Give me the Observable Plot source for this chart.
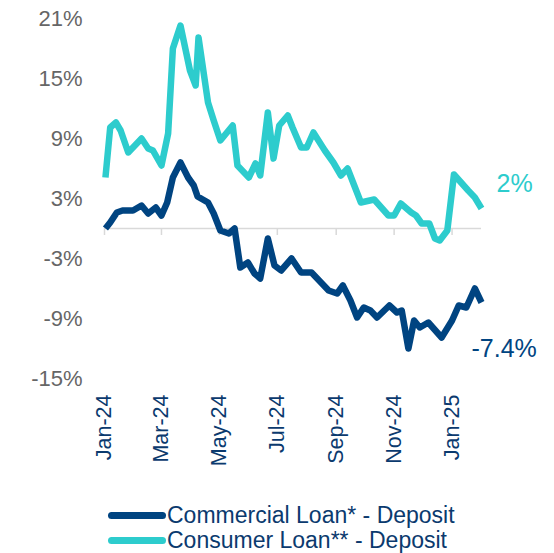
<!DOCTYPE html>
<html><head><meta charset="utf-8">
<script src="https://cdn.jsdelivr.net/npm/d3@7"></script>
<script src="https://cdn.jsdelivr.net/npm/@observablehq/plot@0.6"></script>
<style>
body{margin:0;background:#fff;font-family:"Liberation Sans",Arial,sans-serif;}
#legend{margin-left:108px;margin-top:33px;}
.row{display:flex;align-items:center;height:25px;color:#0b3a6e;font-size:23px;line-height:25px;}
.sw{width:58px;height:7px;border-radius:3.5px;margin-right:1px;}
</style></head><body><div id="chart"></div><div id="legend"></div>
<script>
const seriesNames = ["Commercial Loan* - Deposit", "Consumer Loan** - Deposit"];
const seriesColors = ["#004481", "#2dcccd"];

const commercialDates = ["2024-01-02","2024-01-07","2024-01-14","2024-01-20","2024-01-31","2024-02-09","2024-02-16","2024-02-24","2024-03-01","2024-03-07","2024-03-13","2024-03-21","2024-03-29","2024-04-04","2024-04-08","2024-04-19","2024-04-25","2024-05-02","2024-05-11","2024-05-17","2024-05-23","2024-05-31","2024-06-07","2024-06-13","2024-06-21","2024-06-28","2024-07-05","2024-07-16","2024-07-26","2024-08-06","2024-08-11","2024-08-24","2024-09-02","2024-09-08","2024-09-16","2024-09-23","2024-09-30","2024-10-07","2024-10-14","2024-10-27","2024-11-04","2024-11-09","2024-11-16","2024-11-22","2024-11-28","2024-12-07","2024-12-21","2025-01-01","2025-01-08","2025-01-16","2025-01-25","2025-02-01"];
const commercialValues = [0.0,0.6,1.6,1.8,1.8,2.3,1.5,2.1,1.3,2.6,5.1,6.6,5.1,4.3,3.2,2.6,1.5,-0.2,-0.5,0.0,-3.9,-3.4,-4.5,-5.0,-1.0,-3.7,-4.2,-3.0,-4.4,-4.4,-4.9,-6.2,-6.5,-5.7,-7.2,-8.9,-7.9,-8.2,-8.9,-7.7,-8.4,-8.2,-12.0,-9.2,-9.9,-9.4,-10.9,-9.2,-7.7,-7.9,-6.0,-7.4];

const consumerDates = ["2024-01-02","2024-01-07","2024-01-13","2024-01-18","2024-01-26","2024-02-09","2024-02-16","2024-02-21","2024-03-01","2024-03-08","2024-03-13","2024-03-21","2024-03-31","2024-04-06","2024-04-09","2024-04-19","2024-04-25","2024-05-02","2024-05-15","2024-05-20","2024-06-01","2024-06-08","2024-06-13","2024-06-21","2024-06-27","2024-07-03","2024-07-12","2024-07-17","2024-07-26","2024-08-01","2024-08-08","2024-08-20","2024-08-29","2024-09-06","2024-09-13","2024-09-27","2024-10-11","2024-10-26","2024-11-01","2024-11-08","2024-11-19","2024-11-24","2024-11-30","2024-12-08","2024-12-14","2024-12-19","2024-12-27","2025-01-03","2025-01-18","2025-01-25","2025-02-01"];
const consumerValues = [5.1,10.1,10.6,9.8,7.6,9.0,8.0,7.8,6.3,9.5,18.0,20.3,15.8,14.3,19.1,12.6,10.8,8.8,10.3,6.3,5.1,6.5,5.3,11.6,7.0,10.3,11.3,10.1,8.1,8.1,9.6,7.8,6.6,5.3,6.0,2.6,2.9,1.3,1.3,2.5,1.6,1.3,0.5,0.5,-1.0,-1.2,-0.2,5.4,3.8,3.1,2.0];

const xTickDates = ["2024-01-01","2024-03-01","2024-05-01","2024-07-01","2024-09-01","2024-11-01","2025-01-01"];
const xTickLabels = ["Jan-24","Mar-24","May-24","Jul-24","Sep-24","Nov-24","Jan-25"];
const yTicks = [-15,-9,-3,3,9,15,21];

const parse = d3.utcParse("%Y-%m-%d");
const commercial = commercialDates.map((d,i)=>({date:parse(d), value:commercialValues[i]}));
const consumer = consumerDates.map((d,i)=>({date:parse(d), value:consumerValues[i]}));
const ticks = xTickDates.map(parse);
const fmtPct = v => (Math.round(v*10)/10) + "%";

const plot = Plot.plot({
  width: 554, height: 470,
  marginLeft: 104, marginRight: 73, marginTop: 18, marginBottom: 92,
  style: {fontFamily: "'Liberation Sans', Arial, sans-serif", background: "#fff"},
  x: {type: "utc", domain: [parse("2024-01-01"), parse("2025-02-01")]},
  y: {domain: [-15, 21]},
  marks: [
    Plot.ruleY([0], {stroke: "#d9d9d9", strokeWidth: 1.5}),
    Plot.ruleX(ticks, {x: d => d, y1: 0, y2: -0.7, stroke: "#d9d9d9", strokeWidth: 1.5}),
    Plot.axisY({ticks: yTicks, tickFormat: d => d + "%", tickSize: 0, tickPadding: 22, fontSize: 22, fill: "#666666", label: null}),
    Plot.axisX({ticks: ticks, tickFormat: (d, i) => xTickLabels[i], tickRotate: -90, tickSize: 0, tickPadding: 16, fontSize: 21.5, fill: "#0b3a6e", label: null}),
    Plot.line(consumer, {x: "date", y: "value", stroke: seriesColors[1], strokeWidth: 6.5, strokeLinejoin: "round", strokeLinecap: "butt"}),
    Plot.line(commercial, {x: "date", y: "value", stroke: seriesColors[0], strokeWidth: 6.5, strokeLinejoin: "round", strokeLinecap: "butt"}),
    Plot.text([consumer[consumer.length-1]], {x: "date", y: "value", text: d => fmtPct(d.value), textAnchor: "start", dx: 15, dy: -25, fontSize: 25, fill: seriesColors[1]}),
    Plot.text([commercial[commercial.length-1]], {x: "date", y: "value", text: d => fmtPct(d.value), textAnchor: "start", dx: -10, dy: 46, fontSize: 25, fill: seriesColors[0]})
  ]
});
document.getElementById("chart").appendChild(plot);

const legend = document.getElementById("legend");
seriesNames.forEach((n, i) => {
  const row = document.createElement("div");
  row.className = "row";
  const sw = document.createElement("span");
  sw.className = "sw";
  sw.style.background = seriesColors[i];
  const t = document.createElement("span");
  t.textContent = n;
  row.appendChild(sw); row.appendChild(t);
  legend.appendChild(row);
});
</script></body></html>
